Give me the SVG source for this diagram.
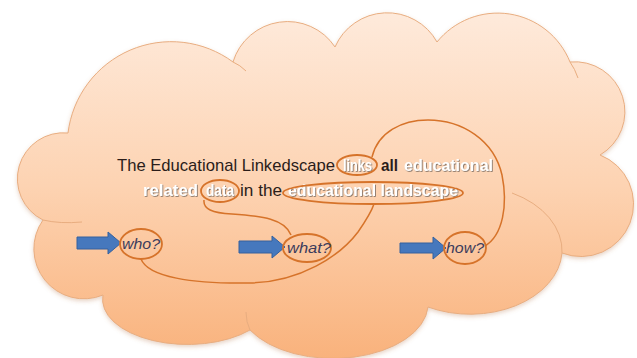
<svg xmlns="http://www.w3.org/2000/svg" width="637" height="358" viewBox="0 0 637 358">
<defs>
<linearGradient id="cg" x1="0" y1="0" x2="0" y2="1">
<stop offset="0" stop-color="#feeadb"/>
<stop offset="0.5" stop-color="#fdd3b2"/>
<stop offset="1" stop-color="#f9b27c"/>
</linearGradient>
<filter id="sh" x="-10%" y="-10%" width="120%" height="130%">
<feDropShadow dx="0" dy="2" stdDeviation="2" flood-color="#b07040" flood-opacity="0.3"/>
</filter>
<filter id="ts" x="-10%" y="-30%" width="120%" height="160%">
<feDropShadow dx="0.8" dy="0.8" stdDeviation="0.7" flood-color="#6e625a" flood-opacity="0.9"/>
</filter>
</defs>
<style>
.cl{fill:url(#cg);stroke:#e8ad80;stroke-width:1}
.in{fill:none;stroke:#e8ad80;stroke-width:1}
.ov{fill:none;stroke:#d6732a;stroke-width:1.8}
.cn{fill:none;stroke:#d6732a;stroke-width:1.5}
.ar{fill:#4678bd;stroke:#34619e;stroke-width:1}
.dk{font-family:"Liberation Sans",Arial,sans-serif;font-size:17px;fill:#2b1d1a}
.wt{font-family:"Liberation Sans",Arial,sans-serif;font-size:16px;font-weight:bold;fill:#ffffff;filter:url(#ts)}
.q{font-family:"Liberation Sans",Arial,sans-serif;font-size:15px;font-style:italic;fill:#3c3c5c}
</style>
<g id="cloud">
<path class="cl" filter="url(#sh)" d="M68,133 A104 104 0 0 1 233,62 A57 57 0 0 1 335,47 A57 57 0 0 1 437,42 A78 78 0 0 1 570,62 A50 50 0 0 1 600,155 A52 52 0 0 1 562,253 A92 65 0 0 1 428,307 A95 55 0 0 1 250,330 A85 45 0 0 1 103,295 A50 50 0 0 1 43,220 A46 46 0 0 1 68,133 Z"/>
<path class="in" d="M512,193 A92 65 0 0 1 562,253"/>
<path class="in" d="M246,312 Q246,322 250,330"/>
<path class="in" d="M43,220 Q60,224 82,222"/>
<path class="in" d="M233,62 Q240,65 246,71"/>
<path class="in" d="M570,62 Q575,69 578,78"/>
</g>
<g id="sentence">
<text class="dk" x="117" y="170.5" textLength="218" lengthAdjust="spacingAndGlyphs">The Educational Linkedscape</text>
<text class="wt" x="343" y="170.5" textLength="29" lengthAdjust="spacingAndGlyphs">links</text>
<text class="dk" x="381" y="170.5" textLength="17" lengthAdjust="spacingAndGlyphs" font-weight="bold">all</text>
<text class="wt" x="404" y="170.5" textLength="89" lengthAdjust="spacingAndGlyphs">educational</text>
<text class="wt" x="143" y="195.5" textLength="55" lengthAdjust="spacingAndGlyphs">related</text>
<text class="wt" x="206" y="195.5" textLength="28" lengthAdjust="spacingAndGlyphs">data</text>
<text class="dk" x="240" y="195.5" textLength="42" lengthAdjust="spacingAndGlyphs">in the</text>
<text class="wt" x="288" y="195.5" textLength="170" lengthAdjust="spacingAndGlyphs">educational landscape</text>
</g>
<g id="links-ring"><ellipse class="ov" cx="357" cy="165" rx="20" ry="10"/></g>
<g id="data-ring"><ellipse class="ov" cx="220" cy="191" rx="19" ry="11"/></g>
<g id="landscape-ring"><ellipse class="ov" cx="373" cy="193" rx="90" ry="11"/></g>
<g id="who">
<path class="ar" d="M77,237 H108 V232 L121,243 L108,254 V249 H77 Z"/>
<ellipse class="ov" cx="141" cy="244" rx="21" ry="15"/>
<text class="q" x="122" y="248.5" textLength="38" lengthAdjust="spacingAndGlyphs">who?</text>
</g>
<g id="what">
<path class="ar" d="M239,241 H272 V236 L285,247 L272,258 V253 H239 Z"/>
<ellipse class="ov" cx="307" cy="248" rx="24" ry="14"/>
<text class="q" x="287" y="253" textLength="44" lengthAdjust="spacingAndGlyphs">what?</text>
</g>
<g id="how">
<path class="ar" d="M400,243 H433 V237 L446,248 L433,259 V253 H400 Z"/>
<ellipse class="ov" cx="465" cy="248" rx="21" ry="16"/>
<text class="q" x="446" y="253" textLength="38" lengthAdjust="spacingAndGlyphs">how?</text>
</g>
<g id="connectors">
<path class="cn" d="M204,200 C203,209 212,213 232,214 C262,216 285,219 291,235"/>
<path class="cn" d="M141,259 C148,277 192,284 250,283 C300,282 340,256 358,232 C367,219 372,210 374,204"/>
<path class="cn" d="M372,157 C378,132 402,120 428,120 C462,120 494,140 502,175 C508,205 503,235 485,246"/>
</g>
</svg>
